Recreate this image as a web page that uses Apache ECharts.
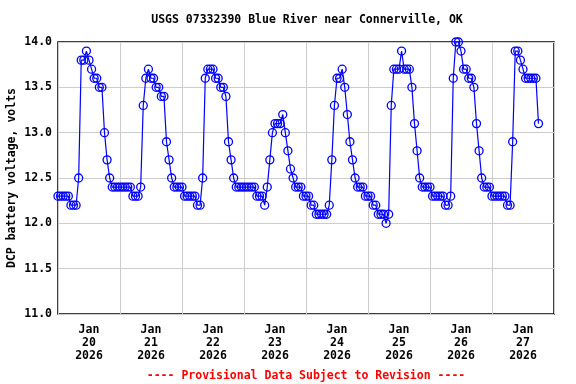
<!DOCTYPE html>
<html><head><meta charset="utf-8">
<script src="https://cdn.jsdelivr.net/npm/echarts@6/dist/echarts.min.js"></script>
<style>html,body{margin:0;padding:0;background:#fff}#c{width:576px;height:384px}</style>
</head><body><div id="c"></div>
<script>
// Tick labels (one per day, centred on the day)
const dayLabels = ['Jan\n20\n2026','Jan\n21\n2026','Jan\n22\n2026','Jan\n23\n2026','Jan\n24\n2026','Jan\n25\n2026','Jan\n26\n2026','Jan\n27\n2026'];
const yTicks = [11.0, 11.5, 12.0, 12.5, 13.0, 13.5, 14.0];
// Hourly DCP battery voltage (volts), starting Jan 20 2026 00:00
const jan20 = [12.3,12.3,12.3,12.3,12.3,12.2,12.2,12.2,12.5,13.8,13.8,13.9,13.8,13.7,13.6,13.6,13.5,13.5,13.0,12.7,12.5,12.4,12.4,12.4];
const jan21 = [12.4,12.4,12.4,12.4,12.4,12.3,12.3,12.3,12.4,13.3,13.6,13.7,13.6,13.6,13.5,13.5,13.4,13.4,12.9,12.7,12.5,12.4,12.4,12.4];
const jan22 = [12.4,12.3,12.3,12.3,12.3,12.3,12.2,12.2,12.5,13.6,13.7,13.7,13.7,13.6,13.6,13.5,13.5,13.4,12.9,12.7,12.5,12.4,12.4,12.4];
const jan23 = [12.4,12.4,12.4,12.4,12.4,12.3,12.3,12.3,12.2,12.4,12.7,13.0,13.1,13.1,13.1,13.2,13.0,12.8,12.6,12.5,12.4,12.4,12.4,12.3];
const jan24 = [12.3,12.3,12.2,12.2,12.1,12.1,12.1,12.1,12.1,12.2,12.7,13.3,13.6,13.6,13.7,13.5,13.2,12.9,12.7,12.5,12.4,12.4,12.4,12.3];
const jan25 = [12.3,12.3,12.2,12.2,12.1,12.1,12.1,12.0,12.1,13.3,13.7,13.7,13.7,13.9,13.7,13.7,13.7,13.5,13.1,12.8,12.5,12.4,12.4,12.4];
const jan26 = [12.4,12.3,12.3,12.3,12.3,12.3,12.2,12.2,12.3,13.6,14.0,14.0,13.9,13.7,13.7,13.6,13.6,13.5,13.1,12.8,12.5,12.4,12.4,12.4];
const jan27 = [12.3,12.3,12.3,12.3,12.3,12.3,12.2,12.2,12.9,13.9,13.9,13.8,13.7,13.6,13.6,13.6,13.6,13.6,13.1];

const values = [].concat(jan20, jan21, jan22, jan23, jan24, jan25, jan26, jan27);
const data = values.map((v, i) => [i, v]);

const font = 'DejaVu Sans Mono';
const txt = {fontFamily: font, fontWeight: 'bold', fontSize: 11.5, color: '#000'};

const chart = echarts.init(document.getElementById('c'), null, {renderer: 'canvas'});
chart.setOption({
  animation: false,
  backgroundColor: '#fff',
  title: [
    {text: 'USGS 07332390 Blue River near Connerville, OK', left: 302, textAlign: 'center', top: 9,
     textStyle: txt},
    {text: '---- Provisional Data Subject to Revision ----', left: 301, textAlign: 'center', top: 365,
     textStyle: Object.assign({}, txt, {color: '#ff0000'})}
  ],
  grid: {left: 58, right: 22, top: 42, bottom: 70, show: true, borderColor: '#000', borderWidth: 1.5,
         outerBoundsMode: 'none', containLabel: false},
  xAxis: [
    {type: 'value', min: 0, max: 192, interval: 24,
     axisLine: {show: false}, axisTick: {show: false}, axisLabel: {show: false},
     splitLine: {show: true, lineStyle: {color: '#cccccc', width: 1}}},
    {type: 'category', data: dayLabels, boundaryGap: true, position: 'bottom',
     axisLine: {show: false}, axisTick: {show: false}, splitLine: {show: false},
     axisLabel: Object.assign({}, txt, {margin: 10, lineHeight: 13, interval: 0})}
  ],
  yAxis: {
    type: 'value', min: yTicks[0], max: yTicks[yTicks.length - 1], interval: 0.5,
    name: 'DCP battery voltage, volts', nameLocation: 'middle', nameGap: 40, nameMoveOverlap: false,
    nameTextStyle: txt,
    axisLine: {show: false}, axisTick: {show: false},
    axisLabel: Object.assign({}, txt, {margin: 6, formatter: v => v.toFixed(1)}),
    splitLine: {show: true, lineStyle: {color: '#cccccc', width: 1}}
  },
  series: [{
    type: 'line', xAxisIndex: 0, data: data, clip: false,
    symbol: 'circle', symbolSize: 8,
    itemStyle: {color: 'rgba(0,0,0,0)', borderColor: '#0000ff', borderWidth: 1.3},
    lineStyle: {color: '#0000ff', width: 1.2},
    emphasis: {disabled: true}
  }]
});
</script></body></html>
